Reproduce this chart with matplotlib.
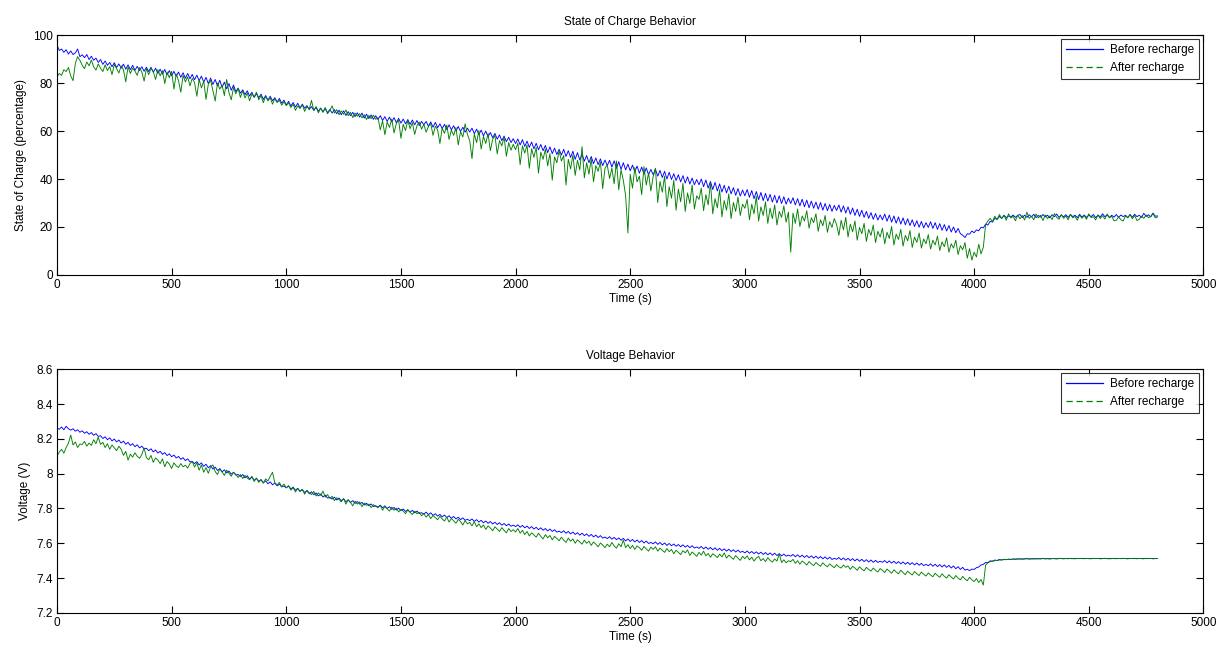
import matplotlib
matplotlib.use("Agg")
import matplotlib.pyplot as plt
from matplotlib.lines import Line2D

plt.rcParams['font.family'] = ['Liberation Sans', 'DejaVu Sans']

time_s = list(range(0, 4801, 10))

soc_before = [
    95.8, 93.6, 94.2, 92.8, 93.9, 92.1, 93.4, 91.9, 92.6, 94.2, 91.0, 91.8, 90.6, 91.9, 89.8, 91.2, 89.5, 90.4, 88.6, 89.8,
    87.8, 89.2, 87.4, 88.6, 86.8, 88.5, 86.5, 88.0, 86.2, 87.9, 85.8, 87.6, 85.6, 87.4, 85.3, 87.0, 85.2, 86.8, 84.9, 86.6,
    84.8, 86.6, 84.5, 86.2, 84.0, 85.8, 83.7, 85.7, 83.4, 85.2, 83.0, 84.9, 82.8, 84.6, 82.4, 84.3, 82.0, 84.0, 81.8, 83.6,
    81.4, 83.3, 81.0, 82.9, 80.4, 82.4, 79.8, 82.1, 79.4, 81.5, 78.8, 81.2, 78.2, 80.4, 77.6, 79.8, 77.0, 79.2, 76.4, 77.9,
    75.8, 77.2, 75.2, 76.8, 74.6, 76.2, 74.0, 75.6, 73.9, 75.4, 73.2, 74.8, 72.9, 74.5, 72.6, 73.9, 72.1, 73.6, 71.6, 72.9,
    70.8, 72.4, 70.4, 71.9, 70.0, 71.6, 69.6, 71.2, 69.5, 70.6, 69.0, 70.2, 68.6, 69.9, 68.2, 69.6, 67.9, 69.4, 67.6, 69.0,
    67.5, 68.9, 67.2, 68.7, 66.8, 68.4, 66.5, 68.1, 66.4, 67.8, 66.0, 67.6, 65.8, 67.5, 65.4, 67.0, 65.2, 66.7, 64.9, 66.4,
    64.8, 66.4, 64.4, 66.0, 64.0, 65.8, 63.8, 65.6, 63.5, 65.3, 63.3, 65.0, 63.0, 64.8, 62.8, 64.6, 62.6, 64.4, 62.3, 64.0,
    62.6, 64.0, 62.0, 63.8, 61.6, 63.6, 61.4, 63.0, 61.0, 62.8, 60.6, 62.6, 60.5, 62.2, 60.0, 61.9, 59.8, 61.6, 59.5, 61.2,
    59.6, 61.2, 58.9, 60.8, 58.5, 60.4, 58.0, 60.0, 57.6, 59.4, 57.2, 59.0, 56.6, 58.4, 56.0, 57.9, 55.6, 57.4, 55.2, 56.8,
    54.8, 56.7, 54.2, 56.4, 53.6, 55.8, 53.2, 55.4, 52.6, 54.9, 52.2, 54.4, 51.8, 54.0, 51.0, 53.4, 50.6, 52.9, 50.2, 52.4,
    50.0, 52.4, 49.4, 51.8, 49.0, 51.6, 48.2, 51.0, 47.9, 50.4, 47.4, 49.8, 46.8, 49.4, 46.4, 48.8, 46.0, 48.4, 45.6, 47.9,
    45.6, 47.8, 45.0, 47.6, 44.5, 47.2, 44.0, 46.8, 43.8, 46.2, 43.4, 45.8, 43.0, 45.4, 42.4, 45.0, 42.0, 44.6, 41.8, 44.0,
    41.8, 44.1, 41.2, 43.6, 40.6, 43.2, 40.0, 42.8, 39.8, 42.2, 39.4, 41.8, 38.8, 41.4, 38.3, 40.9, 37.9, 40.4, 37.6, 39.8,
    37.6, 40.0, 36.8, 39.6, 36.2, 39.0, 35.6, 38.6, 35.0, 38.0, 34.6, 37.4, 34.2, 37.0, 33.8, 36.4, 33.2, 36.0, 32.9, 35.4,
    33.0, 35.6, 32.4, 35.2, 31.8, 34.8, 31.4, 34.4, 31.0, 34.0, 30.8, 33.6, 30.4, 33.2, 30.0, 33.0, 29.8, 32.6, 29.5, 32.0,
    29.8, 32.2, 29.2, 31.8, 28.8, 31.6, 28.4, 31.2, 28.0, 30.8, 27.8, 30.4, 27.4, 30.2, 27.0, 29.8, 26.8, 29.4, 26.5, 29.0,
    26.9, 29.2, 26.2, 28.8, 25.8, 28.4, 25.3, 27.9, 24.8, 27.4, 24.4, 27.0, 24.0, 26.5, 23.6, 26.0, 23.2, 25.6, 22.9, 25.0,
    23.0, 25.4, 22.4, 25.0, 22.0, 24.6, 21.6, 24.2, 21.2, 23.8, 20.9, 23.4, 20.6, 23.0, 20.2, 22.6, 19.9, 22.3, 19.6, 21.8,
    19.8, 22.2, 19.4, 21.8, 19.0, 21.4, 18.6, 21.0, 18.3, 20.6, 17.9, 20.0, 17.6, 19.4, 17.2, 16.6, 15.6, 17.2, 17.0, 18.3,
    17.6, 18.8, 18.4, 19.9, 19.6, 21.2, 20.8, 22.4, 22.0, 23.6, 23.2, 24.4, 23.6, 24.9, 23.9, 24.6, 24.1, 25.0, 24.0, 24.8,
    25.2, 23.9, 24.9, 24.0, 25.1, 24.2, 25.3, 23.9, 24.8, 24.1, 25.2, 24.2, 24.9, 23.8, 25.1, 24.3, 25.4, 24.0, 24.9, 24.2,
    25.1, 24.0, 25.2, 24.3, 24.9, 23.9, 25.3, 24.1, 25.0, 24.0, 24.9, 24.3, 25.2, 23.9, 24.9, 24.2, 25.5, 24.3, 25.0, 24.0,
    24.9, 24.1, 25.2, 24.0, 25.0, 24.3, 24.9, 23.9, 25.2, 24.1, 25.3, 24.3, 24.9, 24.0, 25.7, 24.4, 25.1, 24.2, 25.8, 24.5,
    24.6,
]

soc_after = [
    82.5, 84.0, 83.2, 85.6, 84.8, 86.5, 83.0, 81.0, 88.2, 91.0, 89.5, 87.4, 86.0, 88.8, 87.2, 89.6, 86.8, 85.4, 88.0, 86.2,
    84.8, 87.6, 85.2, 86.9, 83.5, 87.8, 86.0, 84.2, 87.2, 85.5, 80.5, 86.8, 84.0, 86.2, 85.0, 83.2, 86.5, 84.6, 80.8, 86.0,
    83.5, 86.2, 84.8, 81.5, 85.6, 83.0, 85.2, 79.8, 84.6, 82.2, 84.9, 77.5, 83.8, 81.0, 76.2, 83.2, 80.5, 82.6, 78.8, 82.0,
    80.2, 74.5, 81.5, 78.0, 80.8, 73.2, 79.5, 81.2, 76.8, 72.5, 80.0, 77.5, 79.2, 74.8, 81.5, 76.0, 73.0, 78.2, 75.5, 77.8,
    74.0, 76.8, 73.8, 75.9, 72.6, 75.5, 74.2, 76.2, 73.0, 74.8, 71.8, 74.5, 72.6, 73.8, 71.2, 73.5, 71.9, 72.8, 70.8, 72.2,
    70.6, 71.8, 69.8, 71.2, 68.6, 70.5, 69.4, 71.0, 68.2, 70.2, 69.0, 72.8, 68.5, 70.2, 67.6, 69.5, 67.9, 69.8, 67.2, 68.6,
    70.5, 67.5, 68.9, 66.8, 68.4, 67.0, 68.8, 66.4, 67.8, 65.6, 67.5, 66.2, 67.2, 65.5, 66.8, 64.8, 66.5, 65.2, 66.6, 64.9,
    65.6, 60.5, 64.2, 58.5, 63.8, 61.5, 65.0, 59.2, 63.2, 64.6, 57.0, 62.8, 60.2, 64.4, 61.0, 63.5, 58.6, 62.2, 63.8, 60.8,
    62.8, 59.5, 61.9, 63.2, 58.2, 62.0, 60.5, 54.8, 61.2, 59.0, 62.5, 56.5, 60.4, 58.2, 61.5, 54.2, 59.8, 57.5, 63.0, 58.6,
    56.0, 48.5, 58.8, 55.2, 60.2, 52.5, 57.8, 54.8, 59.0, 51.8, 56.5, 58.2, 50.5, 56.0, 53.8, 57.5, 49.5, 55.2, 52.0, 54.5,
    52.2, 55.0, 46.0, 53.8, 50.8, 54.2, 44.5, 52.6, 49.0, 53.2, 42.5, 51.2, 48.2, 52.5, 45.5, 50.6, 39.5, 49.2, 46.8, 51.8,
    47.5, 49.8, 37.5, 48.2, 44.2, 50.0, 41.5, 47.8, 43.8, 53.5, 40.5, 46.8, 42.0, 48.5, 38.8, 45.6, 43.2, 47.2, 36.0, 44.5,
    45.8, 40.2, 44.6, 38.0, 47.5, 35.5, 43.8, 39.5, 33.0, 17.5, 42.0, 36.2, 44.8, 38.8, 41.2, 33.5, 45.2, 37.5, 42.5, 35.0,
    41.0, 44.5, 30.2, 39.0, 34.5, 41.2, 28.5, 36.8, 32.0, 39.5, 27.0, 35.8, 30.5, 38.2, 26.5, 34.2, 29.8, 37.5, 27.5, 33.0,
    31.5, 36.2, 26.8, 33.5, 29.2, 38.5, 25.5, 31.8, 28.0, 35.5, 24.2, 31.0, 27.0, 33.8, 23.5, 30.2, 26.5, 32.5, 24.8, 29.5,
    27.8, 31.5, 23.0, 29.5, 25.5, 32.8, 22.5, 28.4, 24.8, 30.5, 21.5, 27.8, 23.5, 29.2, 20.8, 26.5, 24.0, 28.8, 22.0, 26.2,
    9.5, 25.8, 21.5, 27.5, 20.2, 24.6, 22.5, 26.8, 19.5, 23.8, 21.8, 25.5, 18.2, 23.0, 20.5, 24.8, 17.8, 22.2, 19.8, 23.5,
    21.0, 16.5, 22.8, 18.8, 24.0, 15.8, 21.2, 18.0, 22.5, 14.5, 19.8, 17.2, 21.5, 14.0, 19.0, 16.5, 20.8, 13.5, 18.2, 15.8,
    19.5, 13.0, 17.8, 15.2, 20.2, 12.5, 17.0, 14.8, 19.0, 12.0, 16.5, 14.2, 18.5, 11.5, 15.8, 13.6, 17.5, 11.2, 15.0, 13.0,
    16.8, 10.8, 14.5, 12.5, 16.2, 10.2, 13.8, 11.8, 15.5, 9.5, 13.0, 11.2, 14.5, 8.5, 12.2, 10.5, 13.5, 7.0, 11.0, 6.2,
    9.5, 7.5, 12.8, 8.8, 11.5, 21.0, 22.5, 23.6, 22.2, 24.5, 23.0, 25.2, 23.5, 24.8, 22.8, 25.5, 23.8, 24.4, 22.6, 25.0,
    23.4, 24.8, 22.9, 26.2, 23.6, 24.5, 23.0, 25.4, 23.8, 24.9, 22.7, 25.0, 23.5, 24.6, 23.1, 25.6, 24.0, 23.2, 25.2, 23.6,
    24.6, 23.0, 25.3, 23.8, 24.4, 22.8, 25.0, 23.6, 24.8, 23.2, 25.5, 23.9, 24.3, 22.9, 25.1, 23.5, 24.7, 23.3, 25.4, 23.8,
    24.5, 22.6, 22.8, 24.2, 23.0, 22.5, 24.6, 23.8, 25.2, 23.4, 24.8, 22.7, 23.2, 24.5, 23.6, 25.0, 23.9, 24.4, 25.6, 23.8,
    24.2,
]

volt_before = [
    8.262, 8.255, 8.268, 8.252, 8.272, 8.258, 8.250, 8.258, 8.244, 8.252, 8.238, 8.246, 8.232, 8.241, 8.226, 8.236, 8.220, 8.230, 8.214, 8.218,
    8.202, 8.212, 8.195, 8.206, 8.188, 8.199, 8.182, 8.193, 8.176, 8.187, 8.169, 8.180, 8.162, 8.172, 8.155, 8.166, 8.148, 8.158, 8.142, 8.146,
    8.132, 8.143, 8.125, 8.136, 8.118, 8.129, 8.111, 8.121, 8.104, 8.114, 8.097, 8.107, 8.090, 8.099, 8.082, 8.092, 8.075, 8.085, 8.068, 8.070,
    8.058, 8.069, 8.050, 8.062, 8.042, 8.054, 8.034, 8.046, 8.026, 8.038, 8.018, 8.029, 8.010, 8.022, 8.004, 8.015, 7.997, 8.008, 7.992, 7.995,
    7.984, 7.995, 7.976, 7.988, 7.969, 7.980, 7.962, 7.973, 7.955, 7.966, 7.948, 7.959, 7.942, 7.953, 7.936, 7.946, 7.930, 7.940, 7.924, 7.929,
    7.919, 7.930, 7.912, 7.923, 7.905, 7.916, 7.898, 7.909, 7.892, 7.902, 7.885, 7.896, 7.879, 7.889, 7.872, 7.883, 7.866, 7.877, 7.860, 7.864,
    7.854, 7.865, 7.849, 7.860, 7.844, 7.855, 7.839, 7.850, 7.834, 7.845, 7.829, 7.840, 7.825, 7.835, 7.820, 7.830, 7.816, 7.826, 7.811, 7.816,
    7.808, 7.819, 7.804, 7.815, 7.800, 7.810, 7.795, 7.806, 7.791, 7.802, 7.787, 7.797, 7.783, 7.793, 7.779, 7.789, 7.775, 7.785, 7.771, 7.776,
    7.768, 7.779, 7.764, 7.775, 7.760, 7.770, 7.756, 7.766, 7.752, 7.762, 7.748, 7.758, 7.744, 7.754, 7.740, 7.750, 7.736, 7.746, 7.732, 7.738,
    7.730, 7.740, 7.726, 7.736, 7.722, 7.732, 7.718, 7.728, 7.715, 7.725, 7.711, 7.721, 7.708, 7.718, 7.704, 7.714, 7.701, 7.711, 7.698, 7.704,
    7.696, 7.706, 7.692, 7.703, 7.689, 7.699, 7.685, 7.696, 7.682, 7.692, 7.678, 7.689, 7.675, 7.685, 7.671, 7.682, 7.668, 7.678, 7.664, 7.670,
    7.661, 7.672, 7.658, 7.668, 7.654, 7.665, 7.651, 7.661, 7.647, 7.658, 7.644, 7.654, 7.640, 7.651, 7.637, 7.647, 7.633, 7.644, 7.630, 7.636,
    7.627, 7.638, 7.624, 7.634, 7.621, 7.631, 7.618, 7.628, 7.614, 7.625, 7.611, 7.622, 7.608, 7.619, 7.605, 7.616, 7.602, 7.613, 7.599, 7.605,
    7.597, 7.608, 7.594, 7.605, 7.591, 7.602, 7.588, 7.599, 7.586, 7.596, 7.583, 7.593, 7.580, 7.591, 7.578, 7.588, 7.575, 7.586, 7.573, 7.579,
    7.571, 7.582, 7.568, 7.579, 7.566, 7.576, 7.563, 7.574, 7.560, 7.571, 7.558, 7.568, 7.555, 7.566, 7.553, 7.563, 7.550, 7.561, 7.548, 7.554,
    7.545, 7.556, 7.543, 7.553, 7.541, 7.551, 7.539, 7.549, 7.536, 7.547, 7.534, 7.545, 7.532, 7.543, 7.530, 7.540, 7.528, 7.538, 7.526, 7.532,
    7.526, 7.536, 7.523, 7.534, 7.521, 7.532, 7.519, 7.530, 7.517, 7.528, 7.515, 7.526, 7.513, 7.524, 7.511, 7.522, 7.509, 7.520, 7.507, 7.514,
    7.508, 7.518, 7.505, 7.516, 7.503, 7.514, 7.501, 7.512, 7.499, 7.510, 7.497, 7.508, 7.495, 7.506, 7.493, 7.504, 7.491, 7.502, 7.490, 7.497,
    7.491, 7.501, 7.488, 7.499, 7.486, 7.497, 7.484, 7.495, 7.482, 7.493, 7.480, 7.491, 7.478, 7.489, 7.476, 7.487, 7.474, 7.485, 7.472, 7.479,
    7.471, 7.482, 7.468, 7.480, 7.466, 7.478, 7.464, 7.476, 7.462, 7.473, 7.458, 7.470, 7.454, 7.466, 7.450, 7.462, 7.446, 7.451, 7.443, 7.452,
    7.450, 7.460, 7.464, 7.476, 7.479, 7.490, 7.490, 7.499, 7.497, 7.504, 7.501, 7.507, 7.504, 7.508, 7.506, 7.509, 7.507, 7.510, 7.508, 7.510,
    7.510, 7.509, 7.510, 7.511, 7.510, 7.511, 7.510, 7.512, 7.511, 7.511, 7.512, 7.511, 7.512, 7.511, 7.512, 7.512, 7.511, 7.512, 7.513, 7.512,
    7.512, 7.513, 7.512, 7.512, 7.513, 7.512, 7.513, 7.512, 7.513, 7.513, 7.512, 7.513, 7.512, 7.513, 7.513, 7.512, 7.513, 7.513, 7.512, 7.513,
    7.513, 7.512, 7.513, 7.513, 7.512, 7.513, 7.513, 7.512, 7.513, 7.513, 7.512, 7.513, 7.513, 7.512, 7.513, 7.512, 7.513, 7.513, 7.512, 7.513,
    7.513,
]

volt_after = [
    8.100, 8.125, 8.140, 8.118, 8.150, 8.175, 8.222, 8.165, 8.182, 8.150, 8.170, 8.168, 8.185, 8.158, 8.176, 8.162, 8.195, 8.172, 8.210, 8.168,
    8.180, 8.150, 8.172, 8.140, 8.165, 8.148, 8.132, 8.158, 8.140, 8.105, 8.128, 8.078, 8.112, 8.095, 8.120, 8.100, 8.088, 8.110, 8.148, 8.092,
    8.080, 8.105, 8.065, 8.090, 8.078, 8.058, 8.085, 8.040, 8.070, 8.055, 8.030, 8.062, 8.045, 8.035, 8.058, 8.040, 8.048, 8.032, 8.058, 8.070,
    8.038, 8.062, 8.020, 8.050, 8.008, 8.035, 8.002, 8.040, 8.050, 8.012, 7.995, 8.028, 8.010, 7.990, 8.020, 8.002, 7.985, 8.008, 7.995, 7.978,
    7.995, 7.972, 7.990, 7.975, 7.965, 7.985, 7.955, 7.975, 7.950, 7.965, 7.945, 7.970, 7.958, 7.985, 8.008, 7.948, 7.935, 7.950, 7.925, 7.940,
    7.918, 7.930, 7.905, 7.920, 7.895, 7.915, 7.898, 7.910, 7.882, 7.905, 7.890, 7.880, 7.898, 7.872, 7.890, 7.875, 7.900, 7.865, 7.880, 7.858,
    7.870, 7.845, 7.862, 7.852, 7.838, 7.858, 7.825, 7.850, 7.835, 7.815, 7.842, 7.825, 7.838, 7.810, 7.832, 7.818, 7.825, 7.805, 7.822, 7.812,
    7.805, 7.818, 7.790, 7.812, 7.798, 7.785, 7.808, 7.790, 7.802, 7.780, 7.795, 7.785, 7.770, 7.792, 7.778, 7.765, 7.785, 7.770, 7.778, 7.758,
    7.770, 7.750, 7.765, 7.742, 7.760, 7.748, 7.735, 7.755, 7.740, 7.728, 7.750, 7.722, 7.742, 7.730, 7.715, 7.738, 7.725, 7.705, 7.730, 7.712,
    7.720, 7.700, 7.725, 7.695, 7.712, 7.690, 7.705, 7.680, 7.700, 7.688, 7.672, 7.695, 7.682, 7.668, 7.690, 7.675, 7.660, 7.685, 7.668, 7.678,
    7.665, 7.685, 7.658, 7.675, 7.650, 7.668, 7.642, 7.660, 7.648, 7.635, 7.658, 7.640, 7.625, 7.650, 7.632, 7.645, 7.620, 7.640, 7.628, 7.615,
    7.635, 7.618, 7.605, 7.630, 7.612, 7.625, 7.600, 7.620, 7.608, 7.595, 7.618, 7.600, 7.612, 7.588, 7.608, 7.595, 7.580, 7.602, 7.590, 7.575,
    7.595, 7.580, 7.605, 7.585, 7.572, 7.598, 7.580, 7.618, 7.575, 7.592, 7.570, 7.588, 7.565, 7.585, 7.575, 7.560, 7.582, 7.568, 7.555, 7.578,
    7.565, 7.580, 7.555, 7.572, 7.560, 7.548, 7.570, 7.552, 7.565, 7.540, 7.560, 7.548, 7.535, 7.558, 7.545, 7.562, 7.530, 7.550, 7.538, 7.525,
    7.548, 7.532, 7.555, 7.528, 7.542, 7.520, 7.540, 7.530, 7.518, 7.538, 7.522, 7.545, 7.515, 7.532, 7.520, 7.508, 7.530, 7.515, 7.502, 7.525,
    7.512, 7.528, 7.505, 7.520, 7.498, 7.515, 7.525, 7.500, 7.512, 7.495, 7.518, 7.502, 7.492, 7.510, 7.498, 7.540, 7.490, 7.505, 7.488, 7.500,
    7.495, 7.508, 7.485, 7.500, 7.480, 7.498, 7.488, 7.475, 7.495, 7.482, 7.472, 7.490, 7.478, 7.468, 7.488, 7.475, 7.465, 7.482, 7.470, 7.460,
    7.478, 7.465, 7.458, 7.475, 7.462, 7.470, 7.450, 7.468, 7.458, 7.445, 7.465, 7.452, 7.442, 7.462, 7.450, 7.440, 7.458, 7.445, 7.435, 7.455,
    7.445, 7.432, 7.452, 7.440, 7.428, 7.448, 7.435, 7.425, 7.445, 7.432, 7.420, 7.440, 7.428, 7.418, 7.438, 7.425, 7.415, 7.435, 7.422, 7.412,
    7.430, 7.418, 7.408, 7.428, 7.415, 7.405, 7.425, 7.410, 7.400, 7.420, 7.406, 7.395, 7.415, 7.400, 7.390, 7.410, 7.395, 7.385, 7.405, 7.390,
    7.380, 7.398, 7.375, 7.392, 7.360, 7.475, 7.488, 7.495, 7.498, 7.500, 7.502, 7.504, 7.505, 7.506, 7.507, 7.508, 7.508, 7.509, 7.510, 7.510,
    7.511, 7.510, 7.512, 7.514, 7.510, 7.511, 7.513, 7.510, 7.512, 7.511, 7.514, 7.511, 7.512, 7.510, 7.513, 7.512, 7.511, 7.514, 7.512, 7.511,
    7.513, 7.511, 7.514, 7.512, 7.511, 7.513, 7.512, 7.514, 7.511, 7.513, 7.512, 7.511, 7.514, 7.512, 7.513, 7.511, 7.512, 7.514, 7.512, 7.511,
    7.512, 7.514, 7.511, 7.513, 7.512, 7.514, 7.512, 7.511, 7.513, 7.512, 7.514, 7.511, 7.513, 7.512, 7.511, 7.514, 7.512, 7.513, 7.511, 7.512,
    7.513,
]

for _s in (soc_before, soc_after, volt_before, volt_after):
    assert len(_s) == len(time_s), len(_s)

series_labels = ["Before recharge", "After recharge"]
blue = "#0000ff"
green = "#008000"

fig = plt.figure(figsize=(12.28, 6.5), dpi=100)
ax1 = fig.add_axes([0.0464, 0.577, 0.9336, 0.369])
ax2 = fig.add_axes([0.0464, 0.057, 0.9336, 0.375])


def style(ax):
    ax.tick_params(direction="in", top=True, right=True, length=5, width=0.8,
                   labelsize=8.5, pad=3)
    for s in ax.spines.values():
        s.set_linewidth(0.8)
    ax.set_xlim(0, 5000)
    ax.set_xticks(range(0, 5001, 500))


panels = [
    (ax1, soc_before, soc_after, "State of Charge Behavior",
     "State of Charge (percentage)", (0, 100), list(range(0, 101, 20))),
    (ax2, volt_before, volt_after, "Voltage Behavior",
     "Voltage (V)", (7.2, 8.6), [7.2, 7.4, 7.6, 7.8, 8.0, 8.2, 8.4, 8.6]),
]

for ax, yb, ya, title, ylabel, ylim, yticks in panels:
    ax.plot(time_s, yb, color=blue, lw=0.65)
    ax.plot(time_s, ya, color=green, lw=0.65)
    style(ax)
    ax.set_ylim(*ylim)
    ax.set_yticks(yticks)
    ax.set_yticklabels(["{:g}".format(v) for v in yticks])
    ax.set_title(title, fontsize=8.5, pad=7)
    ax.set_xlabel("Time (s)", fontsize=8.5, labelpad=1)
    ax.set_ylabel(ylabel, fontsize=8.5, labelpad=4)
    handles = [Line2D([], [], color=blue, lw=0.9, ls="-"),
               Line2D([], [], color=green, lw=0.9, ls=(0, (5, 3)))]
    leg = ax.legend(handles, series_labels, loc="upper right", fontsize=8.5,
                    frameon=True, fancybox=False, edgecolor="black",
                    borderaxespad=0.35, handlelength=3.2, handletextpad=0.6,
                    borderpad=0.4, labelspacing=0.5)
    leg.get_frame().set_linewidth(0.8)

fig.savefig("out.png", dpi=100)
